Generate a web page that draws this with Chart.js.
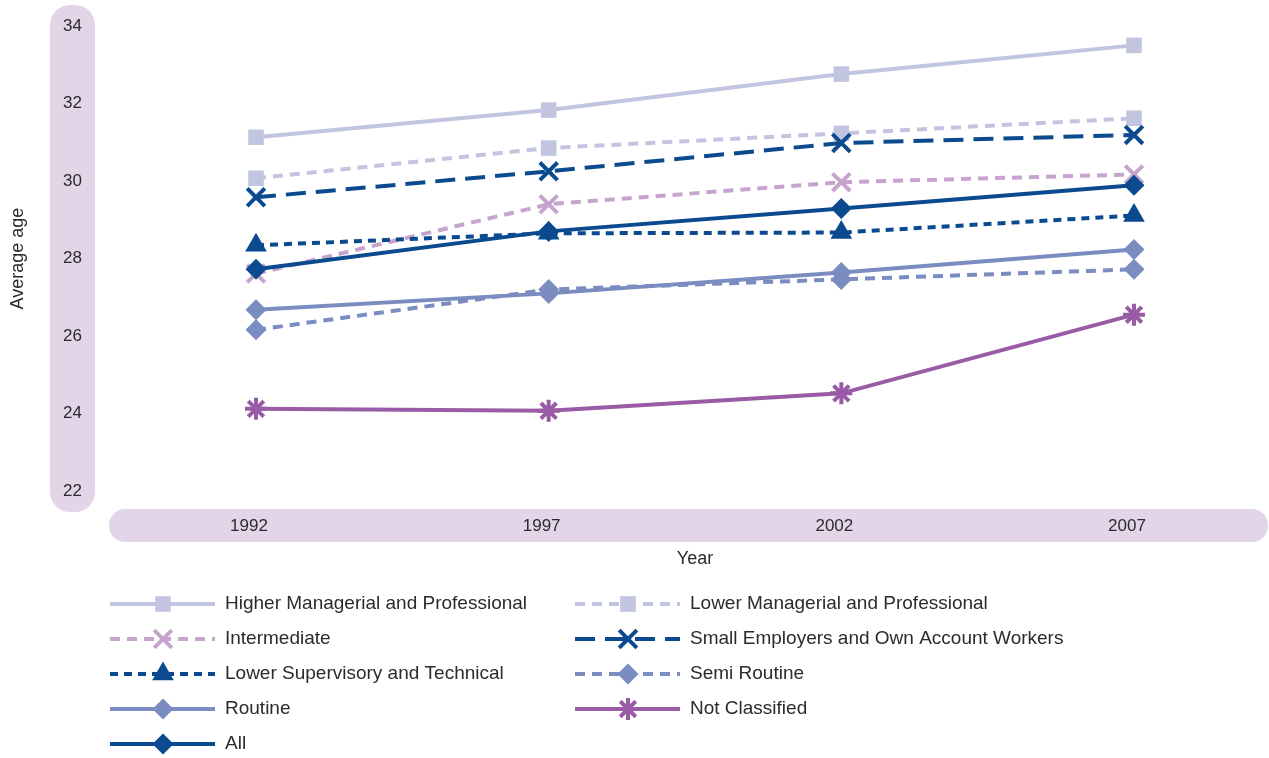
<!DOCTYPE html>
<html>
<head>
<meta charset="utf-8">
<script src="https://cdn.jsdelivr.net/npm/chart.js@4.4.1/dist/chart.umd.min.js"></script>
<style>
  html, body { margin: 0; background: #fff; }
</style>
</head>
<body>
<canvas id="chart" width="1269" height="758"></canvas>
<script>
// data
const years = ['1992', '1997', '2002', '2007'];
const yTicks = [22, 24, 26, 28, 30, 32, 34];
const higherManagerial = [31.13, 31.83, 32.76, 33.50];
const lowerManagerial  = [30.07, 30.85, 31.23, 31.62];
const intermediate     = [27.61, 29.40, 29.97, 30.17];
const smallEmployers   = [29.58, 30.25, 30.98, 31.19];
const lowerSupervisory = [28.34, 28.65, 28.67, 29.11];
const semiRoutine      = [26.16, 27.20, 27.46, 27.72];
const routine          = [26.68, 27.10, 27.64, 28.23];
const notClassified    = [24.12, 24.07, 24.52, 26.55];
const allGroups        = [27.72, 28.70, 29.29, 29.89];

const F = "'Liberation Sans', Arial, sans-serif";
const TXT = '#2b2b2b';
const PILL = '#e2d5e8';
const NAVY = '#0b4a8f', LAV = '#c2c5e0', PINK = '#c7a4cd', MID = '#7a8cc0', PURP = '#9a5ba6';

function series(label, data, color, dash, style, radius, bw, order) {
  return {
    label, data, order,
    borderColor: color, backgroundColor: color, borderWidth: 4, borderDash: dash,
    pointStyle: style, pointRadius: radius, pointHoverRadius: radius,
    pointBackgroundColor: color, pointBorderColor: color, pointBorderWidth: bw,
    tension: 0, fill: false
  };
}

// legend order, row by row (two columns)
const datasets = [
  series('Higher Managerial and Professional', higherManagerial, LAV, [], 'rect', 11, 0, 5),
  series('Lower Managerial and Professional', lowerManagerial, LAV, [10, 7], 'rect', 11, 0, 6),
  series('Intermediate', intermediate, PINK, [10, 7], 'crossRot', 12.5, 4, 7),
  series('Small Employers and Own Account Workers', smallEmployers, NAVY, [20, 10], 'crossRot', 12.5, 4, 3),
  series('Lower Supervisory and Technical', lowerSupervisory, NAVY, [8, 6], 'triangle', 12.5, 0, 2),
  series('Semi Routine', semiRoutine, MID, [10, 7], 'rectRot', 10.5, 0, 4),
  series('Routine', routine, MID, [], 'rectRot', 10.5, 0, 1),
  series('Not Classified', notClassified, PURP, [], 'star', 11, 4, 8),
  series('All', allGroups, NAVY, [], 'rectRot', 10.5, 0, 0)
];

const pills = {
  id: 'pills',
  beforeDraw(chart) {
    const { ctx, chartArea: a } = chart;
    ctx.save();
    ctx.fillStyle = PILL;
    ctx.beginPath(); ctx.roundRect(50, a.top - 21, 45, a.bottom - a.top + 42, 20); ctx.fill();
    ctx.beginPath(); ctx.roundRect(109, a.bottom + 18, 1159, 33, 16); ctx.fill();
    ctx.restore();
  }
};

const lineLegend = {
  id: 'lineLegend',
  afterDraw(chart) {
    const ctx = chart.ctx;
    chart.data.datasets.forEach((ds, i) => {
      const x0 = i % 2 ? 575 : 110;
      const y = 604 + Math.floor(i / 2) * 35;
      ctx.save();
      ctx.strokeStyle = ds.borderColor; ctx.lineWidth = 4;
      ctx.setLineDash(ds.borderDash);
      ctx.beginPath(); ctx.moveTo(x0, y); ctx.lineTo(x0 + 105, y); ctx.stroke();
      ctx.setLineDash([]);
      ctx.fillStyle = ds.pointBackgroundColor; ctx.strokeStyle = ds.pointBorderColor;
      ctx.lineWidth = ds.pointBorderWidth;
      Chart.helpers.drawPoint(ctx, { pointStyle: ds.pointStyle, radius: ds.pointRadius, rotation: 0, borderWidth: ds.pointBorderWidth }, x0 + 53, y);
      ctx.fillStyle = TXT; ctx.font = `19px ${F}`;
      ctx.textAlign = 'left'; ctx.textBaseline = 'middle';
      ctx.fillText(ds.label, x0 + 115, y);
      ctx.restore();
    });
  }
};

new Chart(document.getElementById('chart'), {
  type: 'line',
  data: { labels: years, datasets },
  options: {
    responsive: false, animation: false,
    layout: { padding: { top: 26, right: 135, bottom: 187, left: 0 } },
    plugins: { legend: { display: false }, tooltip: { enabled: false } },
    scales: {
      x: {
        offset: false,
        grid: { display: false, drawTicks: false }, border: { display: false },
        ticks: { color: TXT, font: { size: 17, family: F }, padding: 25, labelOffset: -7 },
        title: { display: true, text: 'Year', color: TXT, font: { size: 18, family: F }, padding: { top: 0, bottom: 1 } },
        afterFit: s => { s.height = 80; s.paddingLeft = 0; s.paddingRight = 0; }
      },
      y: {
        min: yTicks[0], max: yTicks[yTicks.length - 1],
        grid: { display: false, drawTicks: false }, border: { display: false },
        afterBuildTicks: s => { s.ticks = yTicks.map(v => ({ value: v })); },
        ticks: { color: TXT, font: { size: 17, family: F }, padding: 174 },
        title: { display: true, text: 'Average age', color: TXT, font: { size: 18, family: F }, padding: { top: 7, bottom: 0 } },
        afterFit: s => { s.width = 256; s.paddingTop = 0; s.paddingBottom = 0; }
      }
    }
  },
  plugins: [pills, lineLegend]
});
</script>
</body>
</html>
